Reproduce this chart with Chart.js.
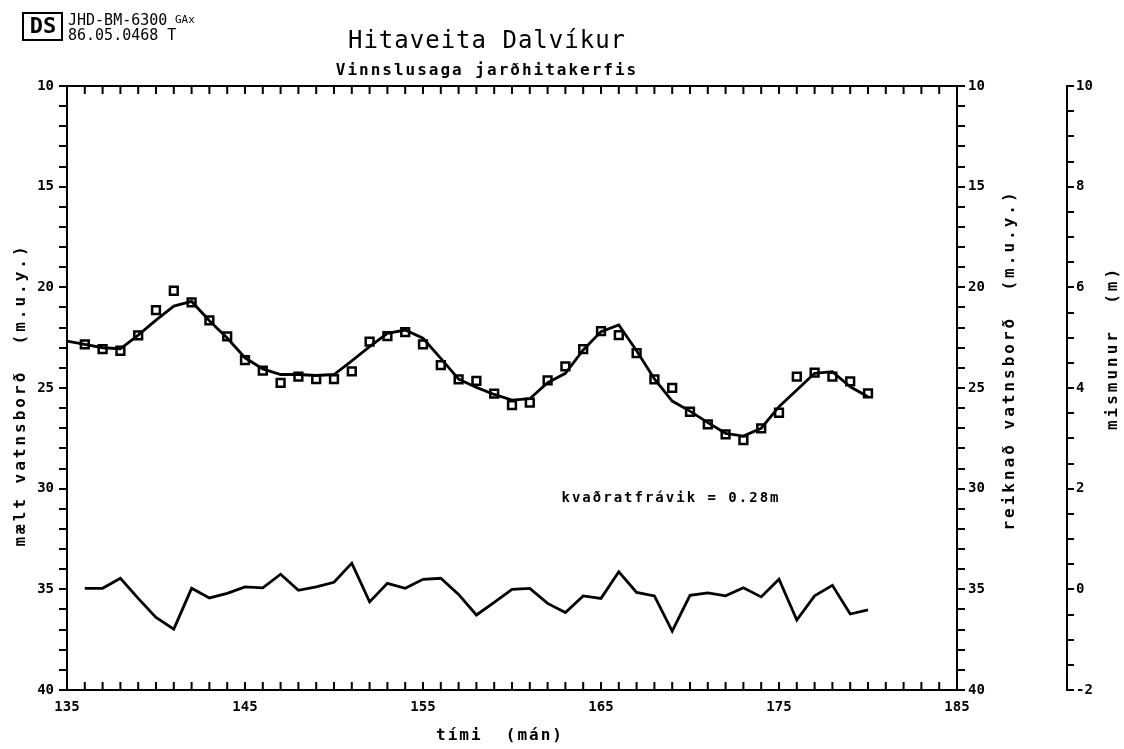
<!DOCTYPE html>
<html><head><meta charset="utf-8">
<script src="https://cdn.jsdelivr.net/npm/chart.js@4"></script>
<style>html,body{margin:0;padding:0;background:#fff}#wrap{width:1124px;height:749px;position:relative}canvas{display:block}</style>
</head><body><div id="wrap"><canvas id="c" width="1124" height="749"></canvas></div>
<script>
// ---- data ----
const calcMonths = [135,136,137,138,139,140,141,142,143,144,145,146,147,148,149,150,151,152,153,154,155,156,157,158,159,160,161,162,163,164,165,166,167,168,169,170,171,172,173,174,175,176,177,178,179,180];
const calcLevel = [22.67,22.83,23.0,23.05,22.37,21.63,20.93,20.7,21.66,22.52,23.5,24.05,24.33,24.33,24.38,24.33,23.65,22.95,22.29,22.12,22.53,23.53,24.56,24.97,25.32,25.6,25.53,24.74,24.27,23.11,22.2,21.87,23.15,24.55,25.65,26.15,26.72,27.25,27.39,27.0,25.93,25.1,24.27,24.19,24.94,25.43];
const measMonths = [136,137,138,139,140,141,142,143,144,145,146,147,148,149,150,151,152,153,154,155,156,157,158,159,160,161,162,163,164,165,166,167,168,169,170,171,172,173,174,175,176,177,178,179,180];
const measLevel = [22.83,23.07,23.15,22.39,21.13,20.17,20.75,21.64,22.44,23.61,24.14,24.74,24.44,24.56,24.56,24.17,22.70,22.42,22.22,22.83,23.86,24.57,24.65,25.28,25.85,25.73,24.62,23.93,23.07,22.17,22.37,23.27,24.57,24.99,26.18,26.81,27.3,27.59,27.0,26.23,24.44,24.24,24.44,24.67,25.27];
const diffMonths = [136,137,138,139,140,141,142,143,144,145,146,147,148,149,150,151,152,153,154,155,156,157,158,159,160,161,162,163,164,165,166,167,168,169,170,171,172,173,174,175,176,177,178,179,180];
const diffValues = [0.02,0.02,0.22,-0.18,-0.56,-0.79,0.02,-0.17,-0.08,0.05,0.03,0.30,-0.02,0.05,0.14,0.52,-0.25,0.12,0.02,0.20,0.22,-0.10,-0.51,-0.26,0.00,0.02,-0.28,-0.46,-0.13,-0.18,0.35,-0.06,-0.13,-0.83,-0.12,-0.07,-0.13,0.03,-0.15,0.20,-0.61,-0.13,0.08,-0.49,-0.41];
const xTickLabels = [135,145,155,165,175,185];
const levelTickLabels = [10,15,20,25,30,35,40];
const diffTickLabels = [-2,0,2,4,6,8,10];

const FONT = "'DejaVu Sans Mono', monospace";
const BLACK = '#000';

const pts = (xs, ys) => xs.map((x, i) => ({x: x, y: ys[i]}));

const decor = {
  id: 'decor',
  afterDraw(chart) {
    const c = chart.ctx, a = chart.chartArea, xs = chart.scales.x;
    c.save();
    c.strokeStyle = BLACK; c.fillStyle = BLACK; c.lineWidth = 2;
    // top frame line
    c.beginPath(); c.moveTo(a.left, a.top); c.lineTo(a.right, a.top); c.stroke();
    // inward monthly ticks on top and bottom
    c.beginPath();
    for (let m = xs.min; m <= xs.max; m += 1) {
      const px = xs.getPixelForValue(m);
      c.moveTo(px, a.bottom); c.lineTo(px, a.bottom - 8);
      c.moveTo(px, a.top); c.lineTo(px, a.top + 8);
    }
    c.stroke();
    // header
    c.lineWidth = 2;
    c.strokeRect(23, 13, 39, 27);
    c.font = "bold 22px " + FONT; c.textAlign = 'center'; c.textBaseline = 'middle';
    c.fillText('DS', 43, 27);
    c.textAlign = 'left'; c.textBaseline = 'alphabetic';
    c.font = "15px " + FONT;
    c.fillText('JHD-BM-6300', 68, 25);
    c.font = "11px " + FONT;
    c.fillText('GAx', 175, 23);
    c.font = "15px " + FONT;
    c.fillText('86.05.0468 T', 68, 40);
    // titles
    c.textAlign = 'center';
    c.font = "24px " + FONT;
    c.letterSpacing = '1px';
    c.fillText('Hitaveita Dalvíkur', 487, 48);
    c.font = "bold 16px " + FONT;
    c.letterSpacing = '2px';
    c.fillText('Vinnslusaga jarðhitakerfis', 487, 75);
    // annotation
    c.font = "bold 14px " + FONT;
    c.letterSpacing = '2px';
    c.fillText('kvaðratfrávik = 0.28m', 671, 502);
    // x title
    c.font = "bold 16px " + FONT;
    c.fillText('tími  (mán)', 500, 740);
    // rotated axis titles
    const rot = (t, x, y) => { c.save(); c.translate(x, y); c.rotate(-Math.PI / 2); c.fillText(t, 0, 0); c.restore(); };
    c.font = "bold 16px " + FONT;
    c.letterSpacing = '3px';
    c.textBaseline = 'middle';
    rot('mælt vatnsborð  (m.u.y.)', 21, 395);
    rot('reiknað vatnsborð  (m.u.y.)', 1010, 360);
    rot('mismunur  (m)', 1113, 348);
    c.restore();
  }
};

new Chart(document.getElementById('c'), {
  type: 'line',
  data: {
    datasets: [
      { label: 'reiknað', data: pts(calcMonths, calcLevel), yAxisID: 'y', borderColor: BLACK, borderWidth: 2.8, pointRadius: 0, tension: 0, fill: false },
      { label: 'mælt', data: pts(measMonths, measLevel), yAxisID: 'y', showLine: false, pointStyle: 'rect', pointRadius: 5.5, pointBorderWidth: 2.5, pointBorderColor: BLACK, pointBackgroundColor: '#fff' },
      { label: 'mismunur', data: pts(diffMonths, diffValues), yAxisID: 'y3', borderColor: BLACK, borderWidth: 2.8, pointRadius: 0, tension: 0, fill: false }
    ]
  },
  options: {
    responsive: false, animation: false, devicePixelRatio: 1,
    layout: { padding: { top: 86, left: 0, right: 0, bottom: 0 } },
    plugins: { legend: { display: false }, tooltip: { enabled: false }, title: { display: false } },
    scales: {
      x: {
        type: 'linear', position: 'bottom', min: 135, max: 185,
        afterBuildTicks: s => { s.ticks = xTickLabels.map(v => ({ value: v })); },
        grid: { display: false },
        border: { display: true, color: BLACK, width: 2 },
        ticks: { color: BLACK, font: { family: FONT, size: 14, weight: 'bold' }, padding: 1, maxRotation: 0, autoSkip: false, callback: v => String(v) },
        afterFit: s => { s.height = 59; }
      },
      y: {
        position: 'left', reverse: true, min: 10, max: 40,
        grid: { display: true, drawOnChartArea: false, drawTicks: true, tickLength: 8, color: BLACK, lineWidth: 2 },
        border: { display: true, color: BLACK, width: 2 },
        ticks: { stepSize: 1, autoSkip: false, color: BLACK, padding: 5, font: { family: FONT, size: 14, weight: 'bold' }, callback: v => levelTickLabels.includes(v) ? String(v) : '' },
        afterFit: s => { s.width = 67; }
      },
      y2: {
        position: 'right', reverse: true, min: 10, max: 40, weight: 0,
        grid: { display: true, drawOnChartArea: false, drawTicks: true, tickLength: 8, color: BLACK, lineWidth: 2 },
        border: { display: true, color: BLACK, width: 2 },
        ticks: { stepSize: 1, autoSkip: false, color: BLACK, padding: 3, font: { family: FONT, size: 14, weight: 'bold' }, callback: v => levelTickLabels.includes(v) ? String(v) : '' },
        afterFit: s => { s.width = 110; }
      },
      y3: {
        position: 'right', min: -2, max: 10, weight: 1,
        grid: { display: true, drawOnChartArea: false, drawTicks: true, tickLength: 7, color: BLACK, lineWidth: 2 },
        border: { display: true, color: BLACK, width: 2 },
        ticks: { stepSize: 0.5, autoSkip: false, color: BLACK, padding: 2, font: { family: FONT, size: 14, weight: 'bold' }, callback: v => diffTickLabels.includes(v) ? String(v) : '' },
        afterFit: s => { s.width = 57; }
      }
    }
  },
  plugins: [decor]
});
</script>
</body></html>
